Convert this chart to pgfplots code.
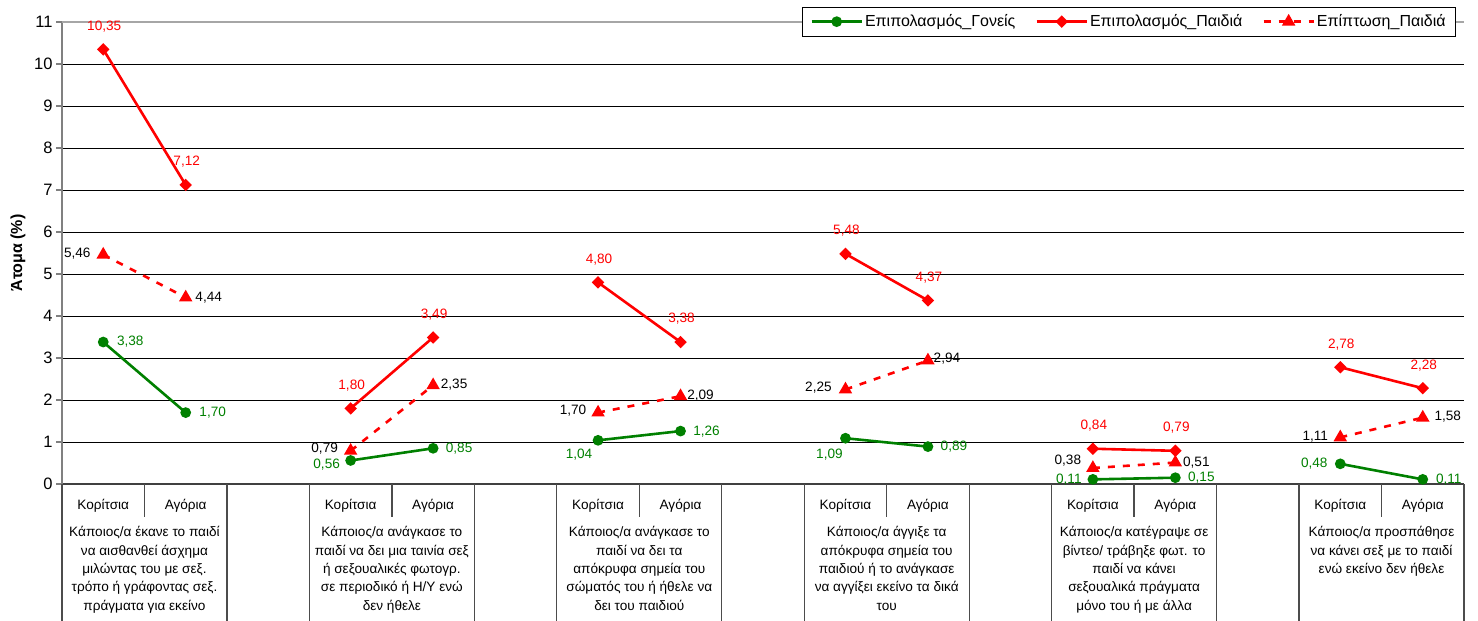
\documentclass[border=0pt]{standalone}
\usepackage{fontspec}
\setmainfont{Liberation Sans}
\usepackage{pgfplots}
\usepackage{pgfplotstable}
\pgfplotsset{compat=1.18}
\pgfplotsset{/pgf/number format/assume math mode=true}
\definecolor{xlgreen}{RGB}{0,128,0}
\definecolor{xlred}{RGB}{255,0,0}

% x = slot (two categories per group, one empty slot between groups); dx, dy = label offset (bp)
\pgfplotstableread{
x y dx dy
0 3.38 27 0
1 1.70 27 0
2 nan 0 0
3 0.56 -24 -4
4 0.85 26 0
5 nan 0 0
6 1.04 -19 -14
7 1.26 26 -1
8 nan 0 0
9 1.09 -16 -16
10 0.89 26 0
11 nan 0 0
12 0.11 -24 0
13 0.15 26 0
14 nan 0 0
15 0.48 -26 0
16 0.11 26 0
}\goneis

\pgfplotstableread{
x y dx dy
0 10.35 1 23
1 7.12 1 23
2 nan 0 0
3 1.80 1 23
4 3.49 1 23
5 nan 0 0
6 4.80 1 23
7 3.38 1 23
8 nan 0 0
9 5.48 1 23
10 4.37 1 23
11 nan 0 0
12 0.84 1 23
13 0.79 1 23
14 nan 0 0
15 2.78 1 23
16 2.28 1 23
}\paidia

\pgfplotstableread{
x y dx dy
0 5.46 -26 1
1 4.44 23 0
2 nan 0 0
3 0.79 -26 2
4 2.35 21 1
5 nan 0 0
6 1.70 -25 2
7 2.09 20 1
8 nan 0 0
9 2.25 -27 2
10 2.94 19 2
11 nan 0 0
12 0.38 -25 7
13 0.51 21 0
14 nan 0 0
15 1.11 -25 1
16 1.58 25 1
}\epiptosi

\begin{document}
\begin{tikzpicture}
\begin{axis}[
  at={(62bp,137bp)}, anchor=south west,
  scale only axis, width=1402bp, height=462bp,
  xmin=-0.5, xmax=16.5, ymin=0, ymax=11,
  ytick={0,1,...,11},
  xtick={0,1,3,4,6,7,9,10,12,13,15,16},
  xticklabels={Κορίτσια,Αγόρια,Κορίτσια,Αγόρια,Κορίτσια,Αγόρια,Κορίτσια,Αγόρια,Κορίτσια,Αγόρια,Κορίτσια,Αγόρια},
  major x tick style={draw=none},
  xticklabel style={anchor=center, yshift=-16bp, font=\fontsize{13.6bp}{16bp}\selectfont},
  yticklabel style={font=\fontsize{16.5bp}{18bp}\selectfont},
  ymajorgrids, grid style={black, line width=0.8bp},
  axis x line*=bottom, axis y line*=left,
  x axis line style={black!75, line width=1.6bp, -},
  y axis line style={gray, line width=2bp, -},
  ytick style={gray, line width=1.2bp},
  tick align=outside, major tick length=6bp,
  ylabel={Άτομα (\%)},
  every axis y label/.style={at={(rel axis cs:0,0.5)}, xshift=-44bp, rotate=90, anchor=center, font=\fontsize{16bp}{18bp}\selectfont\bfseries},
  clip=false,
  unbounded coords=jump,
  legend columns=3,
  legend cell align=left,
  legend style={at={(rel axis cs:1,1)}, anchor=north east, xshift=-8bp, yshift=15bp,
    draw=black, line width=0.8bp, fill=white, inner xsep=8bp, inner ysep=5.5bp,
    font=\fontsize{16bp}{18bp}\selectfont,
    /tikz/every even column/.append style={column sep=18bp},
    nodes={inner xsep=2bp}},
  legend image code/.code={\draw[mark repeat=2,mark phase=2,#1] plot coordinates {(0bp,0bp) (25bp,0bp) (50bp,0bp)};},
  lbl/.style={
    nodes near coords={\pgfmathprintnumber[fixed,fixed zerofill,precision=2,use comma]{\pgfplotspointmeta}},
    point meta=explicit,
    visualization depends on={\thisrow{dx} \as \dx},
    visualization depends on={\thisrow{dy} \as \dy},
    every node near coord/.append style={anchor=center, xshift=\dx bp, yshift=\dy bp, inner sep=0pt, font=\fontsize{13.6bp}{16bp}\selectfont, text=#1}},
]
\draw[gray!70, line width=1.2bp] (rel axis cs:0,1) -- (rel axis cs:1,1);

\addplot[xlgreen, line width=2.6bp, mark=*, mark size=4bp, mark options={solid}, lbl=xlgreen]
  table[x=x,y=y,meta=y] {\goneis};
\addlegendentry{Επιπολασμός\_Γονείς}

\addplot[xlred, line width=2.6bp, mark=square*, mark size=3.1bp, mark options={solid, rotate=45}, lbl=xlred]
  table[x=x,y=y,meta=y] {\paidia};
\addlegendentry{Επιπολασμός\_Παιδιά}

\addplot[xlred, line width=2.6bp, dash pattern=on 7bp off 8bp, mark=triangle*, mark size=5.2bp, mark options={solid}, lbl=black]
  table[x=x,y=y,meta=y] {\epiptosi};
\addlegendentry{Επίπτωση\_Παιδιά}

% category table below the axis
\pgfplotsinvokeforeach{-0.5,1.5,2.5,4.5,5.5,7.5,8.5,10.5,11.5,13.5,14.5,16.5}{
  \draw[black!70, line width=1.3bp] (axis cs:#1,0) -- ++(0pt,-150bp);
}
\pgfplotsinvokeforeach{0.5,3.5,6.5,9.5,12.5,15.5}{
  \draw[black!70, line width=1.3bp] (axis cs:#1,0) -- ++(0pt,-33bp);
}
\tikzset{grp/.style={anchor=north, yshift=-42.5bp, align=center, inner sep=0pt, font=\fontsize{13.6bp}{18.3bp}\selectfont}}
\node[grp] at (axis cs:0.5,0) {Κάποιος/α έκανε το παιδί\\να αισθανθεί άσχημα\\μιλώντας του με σεξ.\\τρόπο ή γράφοντας σεξ.\\πράγματα για εκείνο};
\node[grp] at (axis cs:3.5,0) {Κάποιος/α ανάγκασε το\\παιδί να δει μια ταινία σεξ\\ή σεξουαλικές φωτογρ.\\σε περιοδικό ή Η/Υ ενώ\\δεν ήθελε};
\node[grp] at (axis cs:6.5,0) {Κάποιος/α ανάγκασε το\\παιδί να δει τα\\απόκρυφα σημεία του\\σώματός του ή ήθελε να\\δει του παιδιού};
\node[grp] at (axis cs:9.5,0) {Κάποιος/α άγγιξε τα\\απόκρυφα σημεία του\\παιδιού ή το ανάγκασε\\να αγγίξει εκείνο τα δικά\\του};
\node[grp] at (axis cs:12.5,0) {Κάποιος/α κατέγραψε σε\\βίντεο/ τράβηξε φωτ. το\\παιδί να κάνει\\σεξουαλικά πράγματα\\μόνο του ή με άλλα};
\node[grp] at (axis cs:15.5,0) {Κάποιος/α προσπάθησε\\να κάνει σεξ με το παιδί\\ενώ εκείνο δεν ήθελε};
\end{axis}
\pgfresetboundingbox
\path[use as bounding box] (0,0) rectangle (1478bp,621bp);
\end{tikzpicture}
\end{document}
